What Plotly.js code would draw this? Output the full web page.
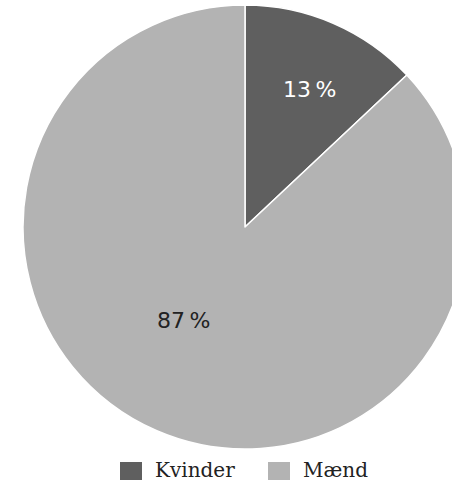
<!DOCTYPE html>
<html>
<head>
<meta charset="utf-8">
<script src="https://cdn.plot.ly/plotly-3.0.1.min.js"></script>
<style>
  html, body { margin: 0; padding: 0; overflow: hidden; background: #ffffff; }
  #chart { width: 500px; height: 484px; }
</style>
</head>
<body>
<div id="chart"></div>
<script>
const labels = ["Kvinder", "Mænd"];
const values = [13, 87];
const colors = ["#5f5f5f", "#b3b3b3"];
const labelTextColors = ["#ffffff", "#222222"];

const W = 500, H = 484;
const px = x => x / W;
const py = y => 1 - y / H;

const total = values.reduce((a, b) => a + b, 0);
const pctText = values.map(v => Math.round(v / total * 100) + "\u2009%");

// label anchor points (pixels) for the slice labels
const labelPos = [[309, 89], [183, 320]];
// legend layout (pixels)
const legendX = [120, 268];

const annotations = [];
values.forEach((v, i) => {
  annotations.push({
    xref: "paper", yref: "paper",
    x: px(labelPos[i][0]), y: py(labelPos[i][1]),
    text: pctText[i], showarrow: false,
    xanchor: "center", yanchor: "middle",
    font: { family: "DejaVu Sans", size: 22, color: labelTextColors[i] }
  });
});

const shapes = [];
labels.forEach((lab, i) => {
  shapes.push({
    type: "rect", xref: "paper", yref: "paper",
    x0: px(legendX[i]), x1: px(legendX[i] + 22),
    y0: py(462), y1: py(480),
    fillcolor: colors[i], line: { width: 0 }
  });
  annotations.push({
    xref: "paper", yref: "paper",
    x: px(legendX[i] + 33), y: py(470),
    text: lab, showarrow: false,
    xanchor: "left", yanchor: "middle",
    font: { family: "DejaVu Serif", size: 20, color: "#222222" }
  });
});

const data = [{
  type: "pie",
  labels: labels,
  values: values,
  sort: false,
  direction: "clockwise",
  rotation: 0,
  marker: { colors: colors, line: { color: "#ffffff", width: 1.5 } },
  textinfo: "none",
  hoverinfo: "label+percent",
  domain: { x: [23 / W, 467 / W], y: [35 / H, 479 / H] },
  showlegend: false
}];

const layout = {
  width: W, height: H,
  margin: { l: 0, r: 0, t: 0, b: 0 },
  paper_bgcolor: "#ffffff",
  plot_bgcolor: "#ffffff",
  showlegend: false,
  annotations: annotations,
  shapes: shapes
};

Plotly.newPlot("chart", data, layout, { displayModeBar: false, staticPlot: true });
</script>
</body>
</html>
